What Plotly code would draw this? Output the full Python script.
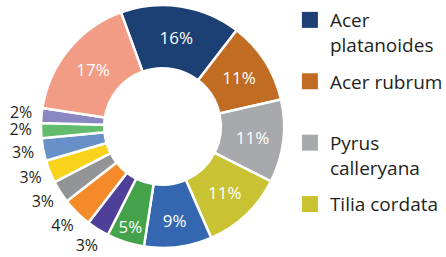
import plotly.graph_objects as go

# Data
slice_labels = ["Acer platanoides", "Acer rubrum", "Pyrus calleryana", "Tilia cordata",
                "Species 5", "Species 6", "Species 7", "Species 8", "Species 9",
                "Species 10", "Species 11", "Species 12", "Species 13", "Species 14"]
slice_values = [16, 11, 11, 11, 9, 5, 3, 4, 3, 3, 3, 2, 2, 17]
slice_colors = ["#1c3f74", "#c06c22", "#a8a9ac", "#c9c232", "#3567b1", "#44a24a",
                "#4e3f98", "#f58a2a", "#939496", "#f9d31b", "#6890c8", "#63bb6e",
                "#8a87c3", "#f39c85"]
legend_names = ["Acer<br>platanoides", "Acer rubrum<br> ", "Pyrus<br>calleryana", "Tilia cordata"]
legend_colors = slice_colors[:4]

W, H = 446, 257
START_ANGLE = -20
FONT = "Open Sans"
CX, CY, R_OUT = 162.5, 126.5, 121.5          # donut centre / radius (px)
PIE_DOMAIN = dict(x=[(CX - R_OUT) / W, (CX + R_OUT) / W],
                  y=[1 - (CY + R_OUT) / H, 1 - (CY - R_OUT) / H])

# polar overlay (left-lower sector) used to place the small outside labels
R_POL = 150
LABEL_R = 142
SECTOR = [170, 240]
POLAR_DOMAIN = dict(x=[(CX - R_POL) / W, CX / W],
                    y=[1 - (CY + 0.866 * R_POL) / H, 1 - (CY - 0.1736 * R_POL) / H])

inside = [v >= 5 for v in slice_values]
text_pos = ["inside" if f else "none" for f in inside]

# mid angles of slices (degrees clockwise from 12 o'clock)
total = sum(slice_values)
mid_angles = []
cum = 0
for v in slice_values:
    mid_angles.append(START_ANGLE + 360 * (cum + v / 2) / total)
    cum += v
out_theta = [a for a, f in zip(mid_angles, inside) if not f]
out_text = [f"{v}%" for v, f in zip(slice_values, inside) if not f]

fig = go.Figure()
fig.add_trace(go.Pie(
    labels=slice_labels,
    values=slice_values,
    sort=False,
    direction="clockwise",
    rotation=START_ANGLE,
    hole=0.48,
    marker=dict(colors=slice_colors, line=dict(color="white", width=2.5)),
    texttemplate="%{value}%",
    textposition=text_pos,
    insidetextorientation="horizontal",
    insidetextfont=dict(color="white", size=17, family=FONT),
    showlegend=False,
    hoverinfo="skip",
    domain=PIE_DOMAIN,
))

fig.add_trace(go.Scatterpolar(
    r=[LABEL_R] * len(out_theta),
    theta=out_theta,
    mode="text",
    text=out_text,
    textposition="middle center",
    textfont=dict(color="#231f20", size=16, family=FONT),
    cliponaxis=False,
    showlegend=False,
    hoverinfo="skip",
))

for name, col in zip(legend_names, legend_colors):
    fig.add_trace(go.Scatter(
        x=[None], y=[None], mode="markers", name=name, legendgroup=name,
        marker=dict(symbol="square", size=18, color=col),
    ))

fig.update_layout(
    width=W, height=H,
    margin=dict(l=0, r=0, t=0, b=0, autoexpand=False),
    paper_bgcolor="white", plot_bgcolor="white",
    xaxis=dict(visible=False), yaxis=dict(visible=False),
    polar=dict(
        domain=POLAR_DOMAIN,
        sector=SECTOR,
        bgcolor="rgba(0,0,0,0)",
        radialaxis=dict(visible=False, range=[0, R_POL]),
        angularaxis=dict(visible=False, rotation=90, direction="clockwise"),
    ),
    font=dict(family=FONT, color="#231f20", size=17),
    legend=dict(x=0.650, y=0.996, xanchor="left", yanchor="top",
                valign="top", tracegroupgap=9,
                font=dict(size=19, family=FONT, color="#231f20")),
)

fig.write_html("out.html",
               config={"displayModeBar": False},
               post_script="document.body.style.margin='0px';document.body.style.overflow='hidden';")
